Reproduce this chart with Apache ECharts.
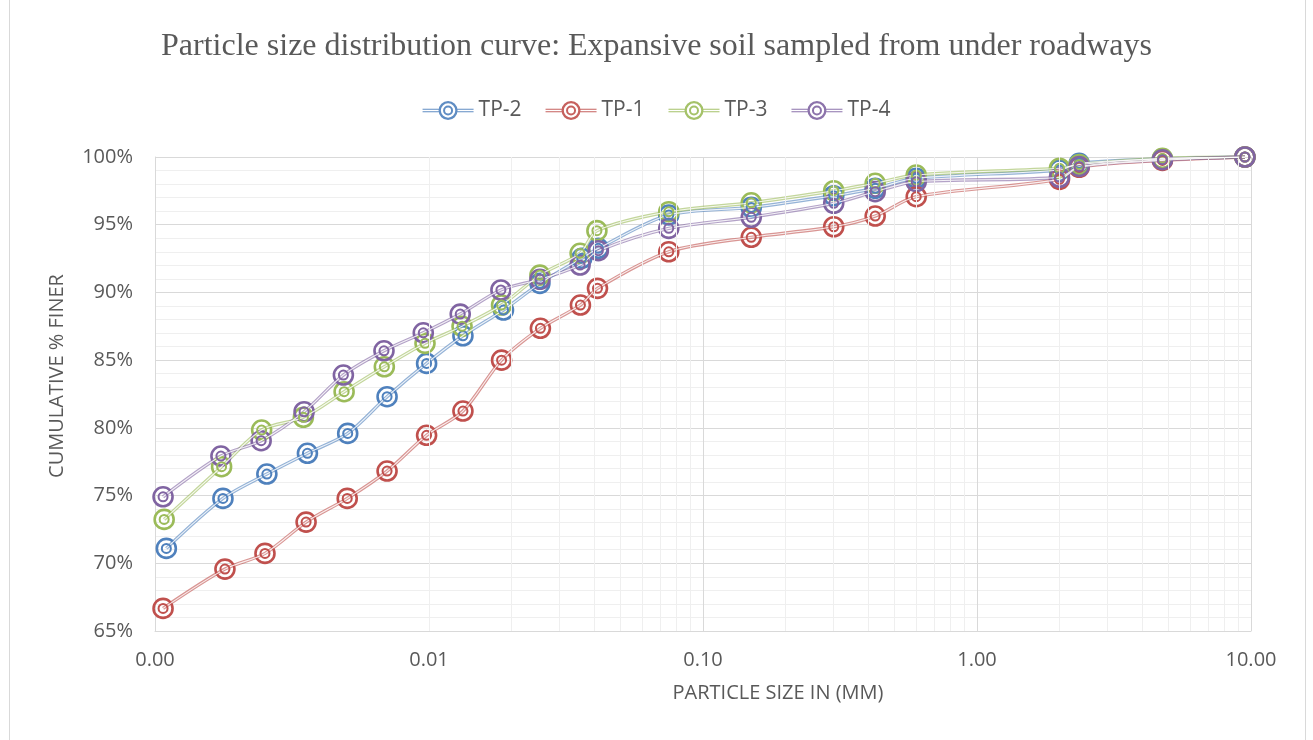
<!DOCTYPE html>
<html>
<head>
<meta charset="utf-8">
<script src="https://cdn.jsdelivr.net/npm/echarts@6/dist/echarts.min.js"></script>
<style>
html,body{margin:0;padding:0;background:#fff;}
#chart{width:1313px;height:740px;}
</style>
</head>
<body>
<div id="chart"></div>
<script>
// ---- data ----
const seriesNames = ['TP-2', 'TP-1', 'TP-3', 'TP-4'];
const seriesColors = ['#4F81BD', '#C0504D', '#9BBB59', '#8064A2'];

const sizeTP2 = [0.0011, 0.00177, 0.00256, 0.0036, 0.00505, 0.00703, 0.0098, 0.0133, 0.0187, 0.0254, 0.0361, 0.0415, 0.075, 0.15, 0.30, 0.425, 0.60, 2.0, 2.36, 4.75, 9.5];
const finerTP2 = [71.1, 74.79, 76.59, 78.12, 79.59, 82.30, 84.76, 86.8, 88.70, 90.67, 92.52, 93.26, 95.72, 96.28, 97.14, 97.69, 98.43, 99.04, 99.53, 99.85, 100];

const sizeTP1 = [0.00107, 0.0018, 0.00252, 0.00356, 0.00503, 0.00703, 0.0098, 0.0133, 0.0184, 0.0255, 0.0357, 0.0412, 0.075, 0.15, 0.30, 0.425, 0.60, 2.0, 2.36, 4.75, 9.5];
const finerTP1 = [66.67, 69.57, 70.73, 73.04, 74.79, 76.81, 79.45, 81.24, 85.0, 87.35, 89.07, 90.30, 93.0, 94.07, 94.85, 95.64, 97.07, 98.35, 99.24, 99.75, 100];

const sizeTP3 = [0.00108, 0.00175, 0.00245, 0.00348, 0.0049, 0.00687, 0.00967, 0.0132, 0.0184, 0.0254, 0.0356, 0.041, 0.075, 0.15, 0.30, 0.425, 0.60, 2.0, 2.36, 4.75, 9.5];
const finerTP3 = [73.24, 77.13, 79.84, 80.78, 82.67, 84.51, 86.24, 87.5, 89.07, 91.28, 92.89, 94.56, 95.96, 96.62, 97.51, 98.06, 98.67, 99.17, 99.45, 99.9, 100];

const sizeTP4 = [0.00107, 0.00174, 0.00244, 0.0035, 0.00487, 0.00685, 0.00953, 0.013, 0.0183, 0.0254, 0.0356, 0.0415, 0.075, 0.15, 0.30, 0.425, 0.60, 2.0, 2.36, 4.75, 9.5];
const finerTP4 = [74.91, 77.92, 79.05, 81.19, 83.9, 85.69, 87.02, 88.4, 90.18, 90.97, 92.02, 93.08, 94.73, 95.55, 96.58, 97.44, 98.18, 98.5, 99.3, 99.8, 100];

const minorGridSizes = [0.002,0.003,0.004,0.005,0.006,0.007,0.008,0.009,
  0.02,0.03,0.04,0.05,0.06,0.07,0.08,0.09,
  0.2,0.3,0.4,0.5,0.6,0.7,0.8,0.9,
  2,3,4,5,6,7,8,9];

const titleText = 'Particle size distribution curve: Expansive soil sampled from under roadways';
const xAxisTitle = 'PARTICLE SIZE IN (MM)';
const yAxisTitle = 'CUMULATIVE % FINER';

// ---- build ----
const sizes = [sizeTP2, sizeTP1, sizeTP3, sizeTP4];
const finers = [finerTP2, finerTP1, finerTP3, finerTP4];
const pairs = (xs, ys) => xs.map((x, i) => [x, ys[i]]);

const font = '"Open Sans", "Noto Sans", sans-serif';
const textColor = '#595959';

// legend icon: double line + double ring (annuli via opposite winding)
function circ(cx, cy, r, cw) {
  const s = cw ? 1 : 0;
  return 'M' + (cx - r) + ',' + cy + 'A' + r + ',' + r + ',0,0,' + s + ',' + (cx + r) + ',' + cy +
         'A' + r + ',' + r + ',0,0,' + s + ',' + (cx - r) + ',' + cy + 'Z';
}
function rect(x, y, w, h) {
  return 'M' + x + ',' + y + 'L' + (x + w) + ',' + y + 'L' + (x + w) + ',' + (y + h) + 'L' + x + ',' + (y + h) + 'Z';
}
const legendIconPath = 'path://' +
  rect(0, 7.7, 16.5, 1.1) + rect(0, 10.2, 16.5, 1.1) +
  rect(34.5, 7.7, 16.5, 1.1) + rect(34.5, 10.2, 16.5, 1.1) +
  circ(25.5, 9.5, 9.5, true) + circ(25.5, 9.5, 7.2, false) +
  circ(25.5, 9.5, 5.0, true) + circ(25.5, 9.5, 3.0, false);

const series = [];
// minor vertical gridlines (log axis) drawn via markLine values
series.push({
  type: 'line', name: '_minor', data: [], z: 1, silent: true,
  markLine: {
    silent: true, symbol: 'none', label: {show: false},
    lineStyle: {color: '#efefef', type: 'solid', width: 1},
    emphasis: {disabled: true},
    data: minorGridSizes.map(v => ({xAxis: v}))
  }
});
// outer part of double line + outer marker ring
seriesNames.forEach((n, i) => {
  series.push({
    type: 'line', name: n, data: pairs(sizes[i], finers[i]),
    smooth: 0.3, z: 3,
    symbol: 'circle', symbolSize: 19,
    itemStyle: {color: 'rgba(255,255,255,0)', borderColor: seriesColors[i], borderWidth: 2.6},
    lineStyle: {color: seriesColors[i], width: 3.4, opacity: 0.6},
    emphasis: {disabled: true}
  });
});
// inner gap of double line + inner marker ring
seriesNames.forEach((n, i) => {
  series.push({
    type: 'line', name: n + '_inner', data: pairs(sizes[i], finers[i]),
    smooth: 0.3, z: 4,
    symbol: 'circle', symbolSize: 9,
    itemStyle: {color: 'rgba(255,255,255,0)', borderColor: seriesColors[i], borderWidth: 2},
    lineStyle: {color: '#ffffff', width: 1.1, opacity: 0.85},
    emphasis: {disabled: true}
  });
});

const chart = echarts.init(document.getElementById('chart'), null, {renderer: 'canvas'});
chart.setOption({
  animation: false,
  backgroundColor: '#ffffff',
  title: {
    text: titleText, left: 'center', top: 26,
    textStyle: {fontFamily: '"Liberation Serif", serif', fontSize: 32, fontWeight: 'normal', color: textColor}
  },
  legend: {
    data: seriesNames.map((n, i) => ({
      name: n, icon: legendIconPath,
      itemStyle: {color: seriesColors[i], borderWidth: 0, opacity: 0.9}
    })),
    top: 95, left: 'center',
    itemWidth: 51, itemHeight: 19, itemGap: 24,
    textStyle: {fontFamily: font, fontSize: 21, color: textColor}
  },
  grid: {left: 155, right: 62, top: 157, bottom: 109, containLabel: false},
  xAxis: {
    type: 'log', logBase: 10, min: 0.001, max: 10,
    name: xAxisTitle, nameLocation: 'middle', nameGap: 52,
    nameTextStyle: {fontFamily: font, fontSize: 20, color: textColor, padding: [0, 0, 0, 150]},
    axisLine: {show: true, lineStyle: {color: '#d9d9d9'}},
    axisTick: {show: false},
    axisLabel: {fontFamily: font, fontSize: 20, color: textColor, margin: 19,
      formatter: v => Number(v).toFixed(2)},
    splitLine: {show: true, lineStyle: {color: '#d9d9d9'}}
  },
  yAxis: {
    type: 'value', min: 65, max: 100, interval: 5,
    name: yAxisTitle, nameLocation: 'middle', nameGap: 88, nameRotate: 90,
    nameTextStyle: {fontFamily: font, fontSize: 20, color: textColor, padding: [0, 0, 0, 36]},
    axisLine: {show: true, lineStyle: {color: '#d9d9d9'}},
    axisTick: {show: false},
    axisLabel: {fontFamily: font, fontSize: 20, color: textColor, margin: 22, formatter: '{value}%'},
    splitLine: {show: true, lineStyle: {color: '#d9d9d9'}},
    minorTick: {show: false, splitNumber: 5},
    minorSplitLine: {show: true, lineStyle: {color: '#efefef'}}
  },
  graphic: [{
    type: 'rect', silent: true,
    shape: {x: 9.5, y: -2, width: 1296, height: 744},
    style: {fill: 'none', stroke: '#d9d9d9', lineWidth: 1}
  }],
  series: series
});
</script>
</body>
</html>
